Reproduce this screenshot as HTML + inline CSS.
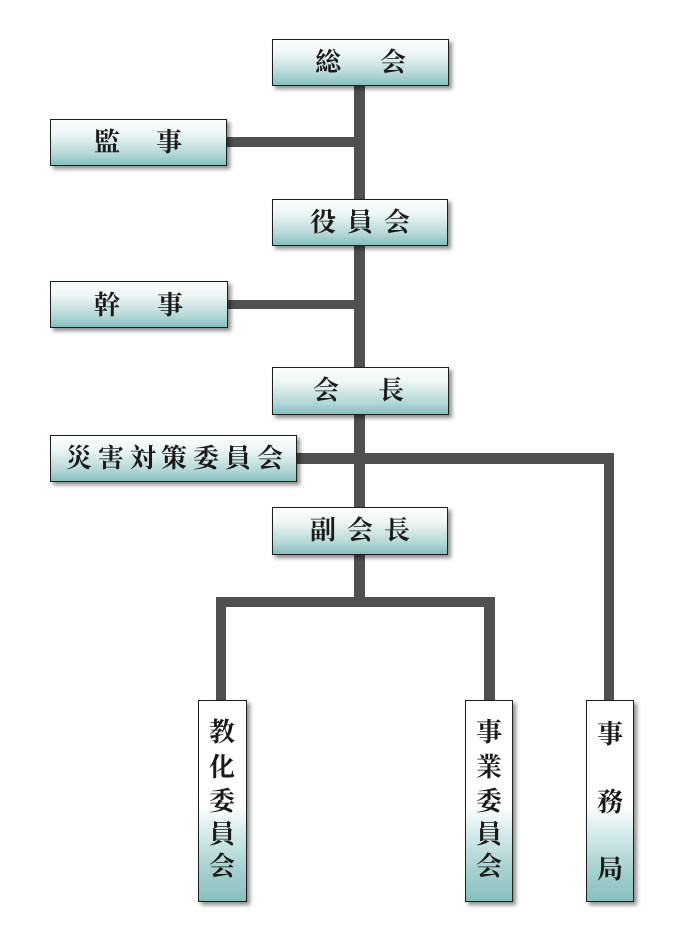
<!DOCTYPE html>
<html>
<head>
<meta charset="utf-8">
<style>
  html, body { margin:0; padding:0; background:#fff; }
  body { width:679px; height:944px; position:relative; overflow:hidden;
         font-family: "Liberation Serif", "Noto Serif CJK SC", "Noto Serif CJK JP", serif; }
  .ln { position:absolute; background:#505050; }
  .bx { position:absolute; box-sizing:border-box; border:1px solid #1e1e1e;
        background:linear-gradient(to bottom, #fbfdfd 0%, #eef6f6 30%, #b4d8d7 75%, #86bebd 100%);
        box-shadow: 3px 3px 4px rgba(0,0,0,0.45); }
  .vb { position:absolute; box-sizing:border-box; border:1px solid #1e1e1e;
        background:linear-gradient(to bottom, #ffffff 0%, #ffffff 52%, #d6eaea 66%, #a6d0cf 85%, #88bfbe 100%);
        box-shadow: 3px 3px 4px rgba(0,0,0,0.45); }
  .c { position:absolute; width:40px; height:40px; line-height:40px; text-align:center;
       font-size:26px; font-weight:bold; color:#1a1a1a; }
</style>
</head>
<body>
<!-- connectors -->
<div class="ln" style="left:354px; top:86px; width:11px; height:521px;"></div>
<div class="ln" style="left:227px; top:137px; width:130px; height:10px;"></div>
<div class="ln" style="left:227px; top:300px; width:130px; height:9px;"></div>
<div class="ln" style="left:297px; top:453px; width:317px; height:11px;"></div>
<div class="ln" style="left:604px; top:453px; width:10px; height:248px;"></div>
<div class="ln" style="left:216px; top:597px; width:279px; height:10px;"></div>
<div class="ln" style="left:216px; top:597px; width:10px; height:104px;"></div>
<div class="ln" style="left:484px; top:597px; width:11px; height:104px;"></div>

<!-- boxes -->
<div class="bx" style="left:272px; top:39px; width:177px; height:47px;"></div>
<div class="bx" style="left:50px; top:119px; width:177px; height:47px;"></div>
<div class="bx" style="left:272px; top:199px; width:176px; height:47px;"></div>
<div class="bx" style="left:50px; top:281px; width:178px; height:47px;"></div>
<div class="bx" style="left:272px; top:367px; width:177px; height:48px;"></div>
<div class="bx" style="left:50px; top:435px; width:247px; height:47px;"></div>
<div class="bx" style="left:272px; top:507px; width:176px; height:48px;"></div>
<div class="vb" style="left:198px; top:700px; width:49px; height:202px;"></div>
<div class="vb" style="left:465px; top:700px; width:48px; height:202px;"></div>
<div class="vb" style="left:586px; top:700px; width:48px; height:202px;"></div>

<!-- 総会 -->
<div class="c" style="left:308px; top:43px;">総</div>
<div class="c" style="left:373px; top:43px;">会</div>
<!-- 監事 -->
<div class="c" style="left:87px; top:123px;">監</div>
<div class="c" style="left:149px; top:123px;">事</div>
<!-- 役員会 -->
<div class="c" style="left:303px; top:203px;">役</div>
<div class="c" style="left:340px; top:203px;">員</div>
<div class="c" style="left:377px; top:203px;">会</div>
<!-- 幹事 -->
<div class="c" style="left:87px; top:286px;">幹</div>
<div class="c" style="left:150px; top:286px;">事</div>
<!-- 会長 -->
<div class="c" style="left:306px; top:371px;">会</div>
<div class="c" style="left:371px; top:371px;">長</div>
<!-- 災害対策委員会 -->
<div class="c" style="left:59px; top:439px;">災</div>
<div class="c" style="left:91px; top:439px;">害</div>
<div class="c" style="left:123px; top:439px;">対</div>
<div class="c" style="left:154px; top:439px;">策</div>
<div class="c" style="left:186px; top:439px;">委</div>
<div class="c" style="left:218px; top:439px;">員</div>
<div class="c" style="left:250px; top:439px;">会</div>
<!-- 副会長 -->
<div class="c" style="left:303px; top:511px;">副</div>
<div class="c" style="left:340px; top:511px;">会</div>
<div class="c" style="left:377px; top:511px;">長</div>
<!-- 教化委員会 -->
<div class="c" style="left:202px; top:713px;">教</div>
<div class="c" style="left:202px; top:748px;">化</div>
<div class="c" style="left:202px; top:782px;">委</div>
<div class="c" style="left:202px; top:815px;">員</div>
<div class="c" style="left:202px; top:847px;">会</div>
<!-- 事業委員会 -->
<div class="c" style="left:469px; top:713px;">事</div>
<div class="c" style="left:469px; top:748px;">業</div>
<div class="c" style="left:469px; top:782px;">委</div>
<div class="c" style="left:469px; top:815px;">員</div>
<div class="c" style="left:469px; top:847px;">会</div>
<!-- 事務局 -->
<div class="c" style="left:590px; top:715px;">事</div>
<div class="c" style="left:590px; top:783px;">務</div>
<div class="c" style="left:590px; top:850px;">局</div>
</body>
</html>
